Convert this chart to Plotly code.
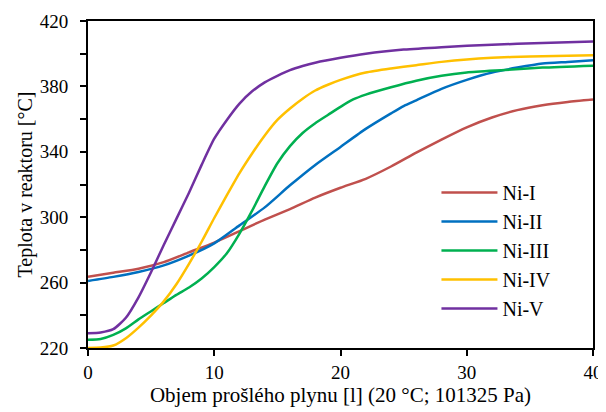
import plotly.graph_objects as go

# Data
x_ni1 = [0, 2, 4, 6, 8, 10, 12, 14, 16, 18, 20, 22, 24, 26, 28, 30, 32, 34, 36, 38, 40]
t_ni1 = [263.5, 266, 268.5, 272.5, 278.5, 284.5, 291.5, 298.5, 305, 312, 318, 323.5, 331, 339.5, 347.5, 355, 361, 365.5, 368.5, 370.5, 372]

x_ni2 = [0, 2, 4, 6, 8, 10, 12, 14, 16, 18, 20, 22, 24, 25, 26, 28, 30, 32, 34, 36, 38, 40]
t_ni2 = [261, 263.5, 266.5, 270.5, 276.5, 284, 295, 306, 319.5, 332, 343, 354, 363.5, 368, 371.5, 378.5, 384, 388.5, 391.5, 394, 395, 396]

x_ni3 = [0, 1, 2, 3, 4, 5, 6, 7, 8, 9, 10, 11, 12, 13, 14, 15, 16, 17, 18, 19, 20, 21, 22, 24, 26, 28, 30, 33, 36, 40]
t_ni3 = [225, 225.5, 228, 232, 237.5, 242.5, 247.5, 252.5, 257, 262.5, 269.5, 278, 290, 304, 319, 333, 343.5, 351.5, 357.5, 362.5, 367.5, 372, 375, 379.5, 383.5, 386.5, 388.5, 390, 391.5, 392.7]

x_ni4 = [0, 1, 2, 3, 4, 5, 6, 7, 8, 9, 10, 11, 12, 13, 14, 15, 16, 17, 18, 19, 20, 22, 24, 26, 28, 30, 32, 35, 40]
t_ni4 = [220, 220.3, 221.5, 226, 232.5, 240, 248.5, 259, 271.5, 285, 299.5, 313.5, 327, 339, 350, 359.5, 366.5, 372.5, 377.5, 381, 384, 388.5, 391, 393, 395, 396.5, 397.5, 398.3, 399]

x_ni5 = [0, 1, 2, 3, 4, 5, 6, 7, 8, 9, 10, 11, 12, 13, 14, 15, 16, 17, 18, 20, 22, 25, 28, 32, 36, 40]
t_ni5 = [229, 229.5, 231.5, 238.5, 251, 266.5, 283, 299, 315, 332, 348, 359.5, 369.5, 377, 382.5, 386.5, 390, 392.5, 394.5, 397.5, 400, 402.5, 404, 405.5, 406.5, 407.5]

names = ["Ni-I", "Ni-II", "Ni-III", "Ni-IV", "Ni-V"]
colors = ["#C0504D", "#0070C0", "#00B050", "#FFC000", "#7030A0"]
series = [(x_ni1, t_ni1), (x_ni2, t_ni2), (x_ni3, t_ni3), (x_ni4, t_ni4), (x_ni5, t_ni5)]

x_ticks = [0, 10, 20, 30, 40]
y_ticks = [220, 260, 300, 340, 380, 420]

FONT = "Liberation Serif, Times New Roman, serif"

fig = go.Figure()
for (xs, ys), n, c in zip(series, names, colors):
    fig.add_trace(go.Scatter(x=xs, y=ys, mode="lines", name=n, legendgroup=n,
                             line=dict(color=c, width=2.5, shape="spline", smoothing=0.6)))

fig.update_layout(
    width=598, height=404,
    margin=dict(l=80, r=13, t=13, b=64),
    paper_bgcolor="white", plot_bgcolor="white",
    font=dict(family=FONT, size=19, color="black"),
    showlegend=True,
    legend=dict(x=0.69, y=0.535, xanchor="left", yanchor="top",
                bgcolor="rgba(0,0,0,0)", font=dict(family=FONT, size=20),
                tracegroupgap=0, itemwidth=56),
    xaxis=dict(range=[0, 40], tickvals=x_ticks, showgrid=False, zeroline=False,
               showline=True, linecolor="black", linewidth=2, mirror=True,
               ticks="outside", ticklen=6, tickwidth=2, tickcolor="black",
               tickfont=dict(size=19), automargin=False,
               title=dict(text="Objem prošlého plynu [l] (20 °C; 101325 Pa)",
                          font=dict(size=21), standoff=6)),
    yaxis=dict(range=[220, 420], tickvals=y_ticks, showgrid=False, zeroline=False,
               showline=True, linecolor="black", linewidth=2, mirror=True,
               ticks="outside", ticklen=6, tickwidth=2, tickcolor="black",
               tickfont=dict(size=19), automargin=False, ticklabelstandoff=8,
               minor=dict(dtick=20, tick0=220, ticks="outside", ticklen=6, tickwidth=2, tickcolor="black", showgrid=False),
               title=dict(text="Teplota v reaktoru [°C]", font=dict(size=20), standoff=2)),
)

fig.write_html("out.html")
